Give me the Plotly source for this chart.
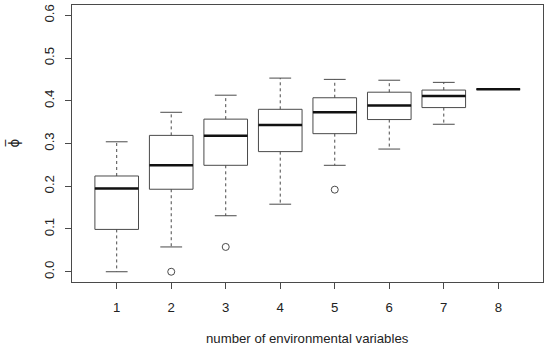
import plotly.graph_objects as go

# number of environmental variables
categories = [1, 2, 3, 4, 5, 6, 7, 8]
q1 = [0.099, 0.193, 0.249, 0.281, 0.323, 0.356, 0.384, 0.427]
medians = [0.195, 0.249, 0.318, 0.343, 0.373, 0.389, 0.411, 0.427]
q3 = [0.224, 0.319, 0.357, 0.380, 0.407, 0.420, 0.425, 0.427]
lower_whisker = [0.000, 0.058, 0.131, 0.158, 0.249, 0.287, 0.345, 0.427]
upper_whisker = [0.304, 0.373, 0.413, 0.453, 0.450, 0.448, 0.443, 0.427]
outlier_x = [2, 3, 5]
outlier_y = [0.000, 0.058, 0.192]

y_ticks = [0.0, 0.1, 0.2, 0.3, 0.4, 0.5, 0.6]
y_tick_labels = ["0.0", "0.1", "0.2", "0.3", "0.4", "0.5", "0.6"]

BOX_W = 0.8
CAP_W = 0.4
LINE = "#4a4a4a"
FONT = "Liberation Sans, Arial, sans-serif"
FS = 13.2

fig = go.Figure()

# boxes
for c, a, m, b in zip(categories, q1, medians, q3):
    fig.add_trace(go.Box(
        x=[c], q1=[a], median=[m], q3=[b], lowerfence=[a], upperfence=[b],
        width=BOX_W, fillcolor="white", line=dict(color=LINE, width=1),
        whiskerwidth=0, boxpoints=False, showlegend=False, hoverinfo="skip",
    ))

# dashed whiskers, caps, medians
wx, wy, cx, cy, mx, my = [], [], [], [], [], []
for c, a, m, b, lo, hi in zip(categories, q1, medians, q3, lower_whisker, upper_whisker):
    if hi > b:
        wx += [c, c, None]
        wy += [b, hi, None]
        cx += [c - CAP_W / 2, c + CAP_W / 2, None]
        cy += [hi, hi, None]
    if lo < a:
        wx += [c, c, None]
        wy += [a, lo, None]
        cx += [c - CAP_W / 2, c + CAP_W / 2, None]
        cy += [lo, lo, None]
    mx += [c - BOX_W / 2, c + BOX_W / 2, None]
    my += [m, m, None]

fig.add_trace(go.Scatter(x=wx, y=wy, mode="lines",
                         line=dict(color=LINE, width=1, dash="3px,3px"),
                         showlegend=False, hoverinfo="skip"))
fig.add_trace(go.Scatter(x=cx, y=cy, mode="lines",
                         line=dict(color=LINE, width=1),
                         showlegend=False, hoverinfo="skip"))
fig.add_trace(go.Scatter(x=mx, y=my, mode="lines",
                         line=dict(color="#111111", width=2.5),
                         showlegend=False, hoverinfo="skip"))
fig.add_trace(go.Scatter(x=outlier_x, y=outlier_y, mode="markers",
                         marker=dict(symbol="circle-open", size=7,
                                     color=LINE, line=dict(width=1)),
                         showlegend=False, hoverinfo="skip"))

fig.update_layout(
    width=550, height=348,
    margin=dict(l=72, r=7, t=5, b=66, autoexpand=False),
    plot_bgcolor="white", paper_bgcolor="white",
    font=dict(family=FONT, size=FS, color="#222222"),
    xaxis=dict(
        range=[0.18, 8.82], tickmode="array", tickvals=categories,
        ticktext=[str(c) for c in categories], automargin=False,
        showgrid=False, zeroline=False, showline=True, mirror=True,
        linecolor=LINE, linewidth=1, ticks="outside", ticklen=6,
        tickcolor=LINE, ticklabelstandoff=7,
    ),
    yaxis=dict(
        range=[-0.024, 0.624], tickmode="array", tickvals=y_ticks,
        ticktext=y_tick_labels, tickangle=-90, automargin=False,
        showgrid=False, zeroline=False, showline=True, mirror=True,
        linecolor=LINE, linewidth=1, ticks="outside", ticklen=6,
        tickcolor=LINE, ticklabelstandoff=6,
    ),
    annotations=[
        dict(text="number of environmental variables", xref="paper", yref="paper",
             x=0.5, y=0, yshift=-56, showarrow=False, yanchor="middle",
             font=dict(size=FS)),
        dict(text="ϕ\u0305", xref="paper", yref="paper",
             x=0, y=0.5, xshift=-59, showarrow=False, textangle=-90,
             xanchor="center", font=dict(size=FS, family="DejaVu Sans")),
    ],
)

fig.write_html("out.html", config={"displayModeBar": False},
               post_script="document.body.style.margin='0';")
